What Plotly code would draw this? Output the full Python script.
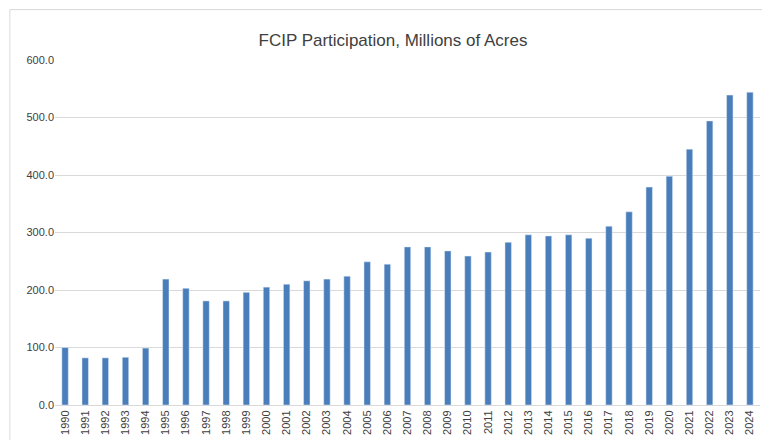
import plotly.graph_objects as go

years = [str(y) for y in range(1990, 2025)]
acres = [100, 82, 82, 83, 99, 219, 203, 181, 181, 196, 205, 210, 216, 219, 224,
         249, 245, 275, 275, 268, 259, 266, 283, 296, 294, 296, 290, 311, 336,
         379, 398, 445, 494, 539, 544]

fig = go.Figure(go.Bar(x=years, y=acres, marker_color="#4a7ebb", width=0.32))

fig.update_layout(
    width=770, height=440,
    title=dict(text="FCIP Participation, Millions of Acres", x=0.5, y=0.94,
               font=dict(family="Liberation Sans, Arial", size=17, color="#404040")),
    font=dict(family="Liberation Sans, Arial", size=11, color="#404040"),
    plot_bgcolor="white", paper_bgcolor="white",
    margin=dict(l=47, r=18, t=52, b=43),
    showlegend=False,
    shapes=[dict(type="rect", xref="paper", yref="paper", x0=-0.064, x1=1.021,
                 y0=-0.116, y1=1.146, line=dict(color="#d9d9d9", width=1))],
)
fig.update_xaxes(tickangle=-90, showline=True, linecolor="#d9d9d9", ticks="",
                 automargin=False)
fig.update_yaxes(range=[0, 600], dtick=100, tickformat=".1f", gridcolor="#d9d9d9",
                 zeroline=False, ticks="", automargin=False)

fig.write_html("out.html")
